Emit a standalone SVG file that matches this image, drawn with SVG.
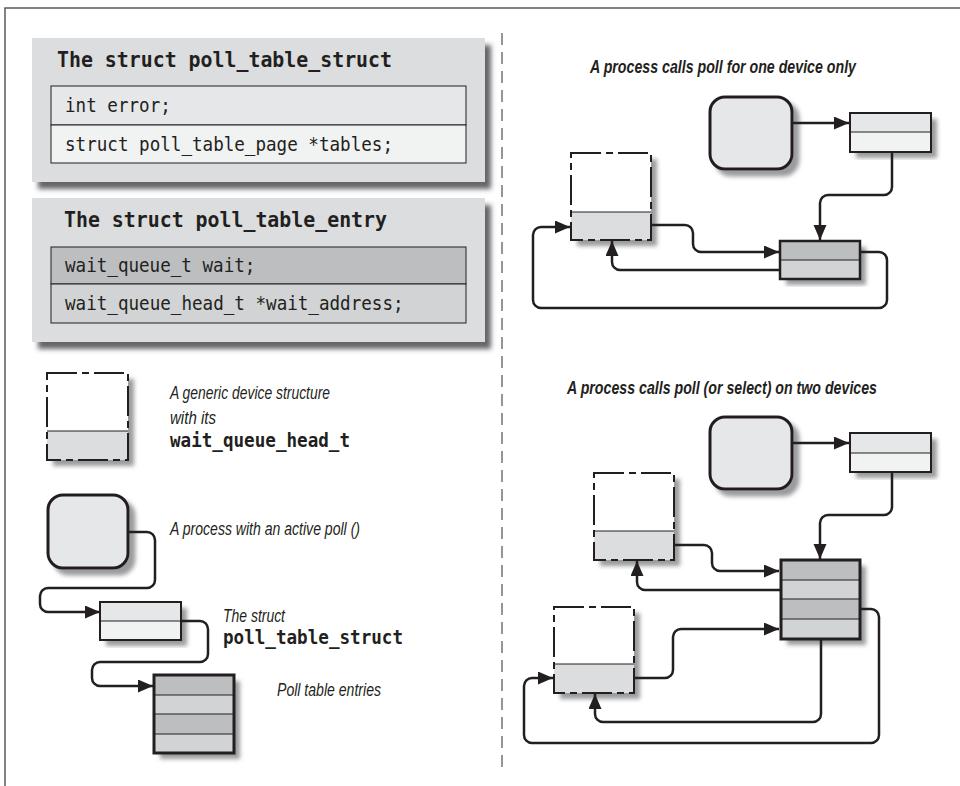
<svg xmlns="http://www.w3.org/2000/svg" width="960" height="786" viewBox="0 0 960 786">
<defs>
<style>
.mono{font-family:"DejaVu Sans Mono","Liberation Mono",monospace;font-size:19px;fill:#231f20}
.monob{font-family:"DejaVu Sans Mono","Liberation Mono",monospace;font-size:19px;font-weight:bold;fill:#231f20}
.title{font-family:"DejaVu Sans Mono","Liberation Mono",monospace;font-size:22px;font-weight:bold;fill:#231f20}
.it{font-family:"Liberation Sans",Arial,sans-serif;font-style:italic;font-size:18.5px;fill:#231f20}
.itb{font-family:"Liberation Sans",Arial,sans-serif;font-style:italic;font-weight:bold;font-size:17.5px;fill:#231f20}
.row{stroke:#231f20;stroke-width:1}
.box{fill:none;stroke:#231f20;stroke-width:2}
.thick{fill:none;stroke:#231f20;stroke-width:3}
.dev{fill:none;stroke:#231f20;stroke-width:2;stroke-dasharray:30 5 7 5}
.div{stroke:#231f20;stroke-width:1}
.c1{fill:#e6e7e8}
.c2{fill:#f1f2f2}
.c3{fill:#bcbec0}
.c4{fill:#d1d3d4}
.cd{fill:#dcddde}
.proc{fill:#e6e7e8;stroke:#231f20;stroke-width:3}
.conn{fill:none;stroke:#231f20;stroke-width:2.5;stroke-linejoin:round}
.arr{marker-end:url(#ah)}
</style>
<marker id="ah" markerUnits="userSpaceOnUse" markerWidth="16" markerHeight="14" refX="15" refY="6.5" orient="auto">
<path d="M0,0 L15,6.5 L0,13 z" fill="#231f20"/>
</marker>
<filter id="shBig" x="-5%" y="-5%" width="115%" height="125%">
<feDropShadow dx="6" dy="7" stdDeviation="2.5" flood-color="#414042" flood-opacity="0.8"/>
</filter>
<filter id="sh" x="-10%" y="-10%" width="130%" height="130%">
<feDropShadow dx="6" dy="6" stdDeviation="2" flood-color="#808285" flood-opacity="0.8"/>
</filter>
</defs>

<rect x="0" y="0" width="960" height="786" fill="#ffffff"/>
<path d="M5,786 V8 H960" fill="none" stroke="#58595b" stroke-width="1.5"/>
<line x1="502" y1="33" x2="502" y2="772" stroke="#939598" stroke-width="2" stroke-dasharray="12 7"/>

<!-- struct poll_table_struct -->
<g id="poll_table_struct_def">
<rect x="32" y="38" width="453" height="144" class="cd" filter="url(#shBig)"/>
<text x="57" y="67" class="title" textLength="335" lengthAdjust="spacingAndGlyphs">The struct poll_table_struct</text>
<rect x="51" y="86" width="415" height="39" class="c1 row"/>
<rect x="51" y="125" width="415" height="38" class="c2 row"/>
<text x="65" y="112" class="mono" textLength="105.8" lengthAdjust="spacingAndGlyphs">int error;</text>
<text x="65" y="151" class="mono" textLength="328" lengthAdjust="spacingAndGlyphs">struct poll_table_page *tables;</text>
</g>

<!-- struct poll_table_entry -->
<g id="poll_table_entry_def">
<rect x="32" y="198" width="453" height="144" class="cd" filter="url(#shBig)"/>
<text x="64" y="227" class="title" textLength="323" lengthAdjust="spacingAndGlyphs">The struct poll_table_entry</text>
<rect x="51" y="247" width="415" height="37" class="c3 row"/>
<rect x="51" y="284" width="415" height="39" class="c4 row"/>
<text x="65" y="272" class="mono" textLength="190.4" lengthAdjust="spacingAndGlyphs">wait_queue_t wait;</text>
<text x="65" y="310" class="mono" textLength="338.6" lengthAdjust="spacingAndGlyphs">wait_queue_head_t *wait_address;</text>
</g>

<!-- legend -->
<g id="legend_device">
<g filter="url(#sh)">
<rect x="47" y="373" width="81" height="87" fill="#ffffff"/>
<rect x="47" y="431" width="81" height="29" fill="#dcddde"/>
</g>
<line x1="47" y1="431" x2="128" y2="431" class="div"/>
<rect x="47" y="373" width="81" height="87" class="dev"/>
<text x="170" y="399" class="it" textLength="160" lengthAdjust="spacingAndGlyphs">A generic device structure</text>
<text x="170" y="424" class="it" textLength="46" lengthAdjust="spacingAndGlyphs">with its</text>
<text x="170" y="447" class="monob" textLength="180" lengthAdjust="spacingAndGlyphs">wait_queue_head_t</text>
</g>

<g id="legend_process">
<rect x="48" y="495" width="80" height="73" rx="15" class="proc" filter="url(#sh)"/>
<text x="170" y="535" class="it" textLength="190" lengthAdjust="spacingAndGlyphs">A process with an active poll ()</text>
</g>

<g id="legend_struct">
<g filter="url(#sh)">
<rect x="100" y="602" width="81" height="19" class="c1"/>
<rect x="100" y="621" width="81" height="19" class="c2"/>
</g>
<line x1="100" y1="621" x2="181" y2="621" class="div"/>
<rect x="100" y="602" width="81" height="38" class="box"/>
<text x="223" y="622" class="it" textLength="62" lengthAdjust="spacingAndGlyphs">The struct</text>
<text x="223" y="644" class="monob" textLength="180" lengthAdjust="spacingAndGlyphs">poll_table_struct</text>
</g>

<g id="legend_entries">
<g filter="url(#sh)">
<rect x="154" y="675" width="80" height="20" class="c3"/>
<rect x="154" y="695" width="80" height="19" class="c4"/>
<rect x="154" y="714" width="80" height="20" class="c3"/>
<rect x="154" y="734" width="80" height="19" class="c4"/>
</g>
<line x1="154" y1="695" x2="234" y2="695" class="div"/>
<line x1="154" y1="714" x2="234" y2="714" class="div"/>
<line x1="154" y1="734" x2="234" y2="734" class="div"/>
<rect x="154" y="675" width="80" height="78" class="thick"/>
<text x="277" y="696" class="it" textLength="104" lengthAdjust="spacingAndGlyphs">Poll table entries</text>
</g>

<!-- top right: one device -->
<text x="590" y="73" class="itb" textLength="266" lengthAdjust="spacingAndGlyphs">A process calls poll for one device only</text>

<g id="p1_process">
<rect x="710" y="97" width="82" height="72" rx="15" class="proc" filter="url(#sh)"/>
</g>

<g id="p1_struct">
<g filter="url(#sh)">
<rect x="850" y="113" width="81" height="19" class="c1"/>
<rect x="850" y="132" width="81" height="20" class="c2"/>
</g>
<line x1="850" y1="132" x2="931" y2="132" class="div"/>
<rect x="850" y="113" width="81" height="39" class="box"/>
</g>

<g id="p1_device">
<g filter="url(#sh)">
<rect x="571" y="153" width="80" height="87" fill="#ffffff"/>
<rect x="571" y="212" width="80" height="28" fill="#dcddde"/>
</g>
<line x1="571" y1="212" x2="651" y2="212" class="div"/>
<rect x="571" y="153" width="80" height="87" class="dev"/>
</g>

<g id="p1_entries">
<g filter="url(#sh)">
<rect x="780" y="241" width="80" height="19" class="c3"/>
<rect x="780" y="260" width="80" height="19" class="c4"/>
</g>
<line x1="780" y1="260" x2="860" y2="260" class="div"/>
<rect x="780" y="241" width="80" height="38" class="box" style="stroke-width:2.5"/>
</g>

<!-- bottom right: two devices -->
<text x="567" y="394" class="itb" textLength="310" lengthAdjust="spacingAndGlyphs">A process calls poll (or select) on two devices</text>

<g id="p2_process">
<rect x="710" y="417" width="82" height="72" rx="15" class="proc" filter="url(#sh)"/>
</g>

<g id="p2_struct">
<g filter="url(#sh)">
<rect x="850" y="433" width="81" height="20" class="c1"/>
<rect x="850" y="453" width="81" height="19" class="c2"/>
</g>
<line x1="850" y1="453" x2="931" y2="453" class="div"/>
<rect x="850" y="433" width="81" height="39" class="box"/>
</g>

<g id="p2_device1">
<g filter="url(#sh)">
<rect x="594" y="473" width="80" height="87" fill="#ffffff"/>
<rect x="594" y="531" width="80" height="29" fill="#dcddde"/>
</g>
<line x1="594" y1="531" x2="674" y2="531" class="div"/>
<rect x="594" y="473" width="80" height="87" class="dev"/>
</g>

<g id="p2_device2">
<g filter="url(#sh)">
<rect x="554" y="607" width="80" height="86" fill="#ffffff"/>
<rect x="554" y="664" width="80" height="29" fill="#dcddde"/>
</g>
<line x1="554" y1="664" x2="634" y2="664" class="div"/>
<rect x="554" y="607" width="80" height="86" class="dev"/>
</g>

<g id="p2_entries">
<g filter="url(#sh)">
<rect x="781" y="560" width="79" height="20" class="c3"/>
<rect x="781" y="580" width="79" height="19" class="c4"/>
<rect x="781" y="599" width="79" height="20" class="c3"/>
<rect x="781" y="619" width="79" height="20" class="c4"/>
</g>
<line x1="781" y1="580" x2="860" y2="580" class="div"/>
<line x1="781" y1="599" x2="860" y2="599" class="div"/>
<line x1="781" y1="619" x2="860" y2="619" class="div"/>
<rect x="781" y="560" width="79" height="79" class="thick"/>
</g>

<!-- connectors -->
<g id="connectors">
<path class="conn arr" d="M128,532 H147 A8,8 0 0 1 155,540 V580 A8,8 0 0 1 147,588 H48 A8,8 0 0 0 40,596 V604 A8,8 0 0 0 48,612 H100"/>
<path class="conn arr" d="M181,621 H200 A8,8 0 0 1 208,629 V654 A8,8 0 0 1 200,662 H100 A8,8 0 0 0 92,670 V678 A8,8 0 0 0 100,686 H153"/>

<path class="conn arr" d="M792,123 H849"/>
<path class="conn arr" d="M892,152 V187 A8,8 0 0 1 884,195 H828 A8,8 0 0 0 820,203 V240"/>
<path class="conn arr" d="M651,225 H685 A8,8 0 0 1 693,233 V244 A8,8 0 0 0 701,252 H779"/>
<path class="conn arr" d="M780,270 H620 A8,8 0 0 1 612,262 V241"/>
<path class="conn arr" d="M860,252 H879 A8,8 0 0 1 887,260 V300 A8,8 0 0 1 879,308 H541 A8,8 0 0 1 533,300 V235 A8,8 0 0 1 541,227 H570"/>

<path class="conn arr" d="M792,443 H849"/>
<path class="conn arr" d="M892,472 V507 A8,8 0 0 1 884,515 H828 A8,8 0 0 0 820,523 V559"/>
<path class="conn arr" d="M674,545 H704 A8,8 0 0 1 712,553 V563 A8,8 0 0 0 720,571 H779"/>
<path class="conn arr" d="M781,590 H645 A8,8 0 0 1 637,582 V561"/>
<path class="conn arr" d="M634,678 H665 A8,8 0 0 0 673,670 V637 A8,8 0 0 1 681,629 H779"/>
<path class="conn arr" d="M821,639 V714 A8,8 0 0 1 813,722 H603 A8,8 0 0 1 595,714 V694"/>
<path class="conn arr" d="M860,609 H871 A8,8 0 0 1 879,617 V735 A8,8 0 0 1 871,743 H532 A8,8 0 0 1 524,735 V686 A8,8 0 0 1 532,678 H553"/>
</g>
</svg>
